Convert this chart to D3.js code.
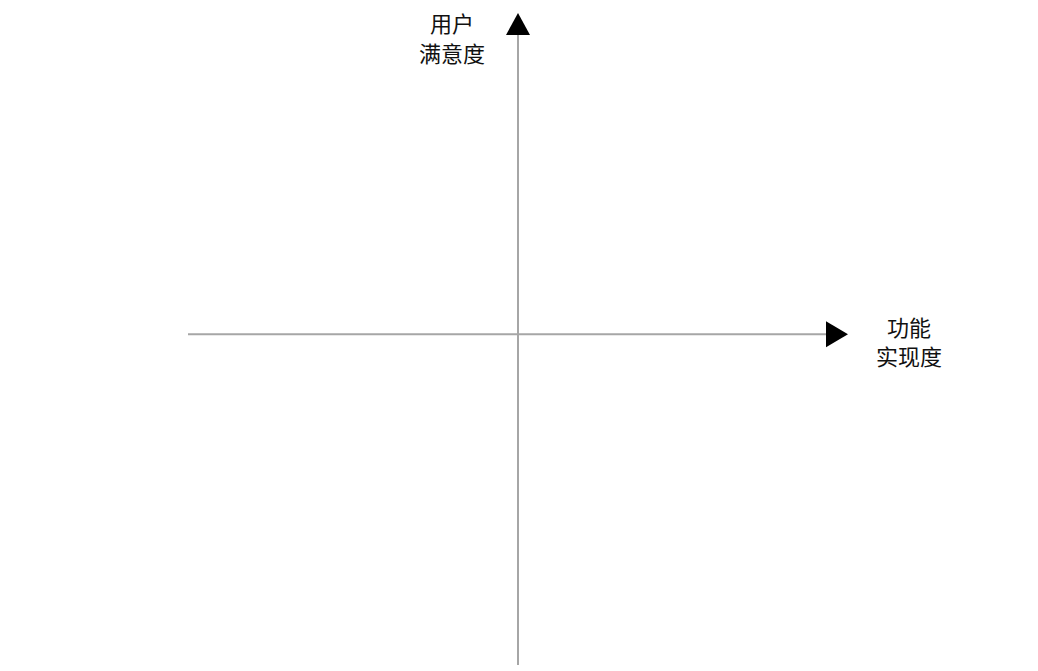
<!DOCTYPE html>
<html>
<head>
<meta charset="utf-8">
<script src="https://cdn.jsdelivr.net/npm/d3@7"></script>
<style>
  html, body { margin: 0; padding: 0; background: #fff; }
  svg { display: block; }
  text { font-family: "Noto Sans CJK SC", "Noto Sans", sans-serif; }
</style>
</head>
<body>
<script>
// Axis labels
const xLabelLines = ["功能", "实现度"];
const yLabelLines = ["用户", "满意度"];
// Axis domains (quadrant chart, no ticks)
const xDomain = [-1.0, 1.0];
const yDomain = [-1.03, 1.0];

const W = 1038, H = 671;
const svg = d3.select("body").append("svg").attr("width", W).attr("height", H);

const x = d3.scaleLinear().domain(xDomain).range([188, 848]);
const y = d3.scaleLinear().domain(yDomain).range([665, 13]);

const axisColor = "#a6a6a6";

// Horizontal axis
svg.append("line")
  .attr("x1", x(xDomain[0])).attr("x2", x(xDomain[1]) - 10)
  .attr("y1", y(0)).attr("y2", y(0))
  .attr("stroke", axisColor).attr("stroke-width", 2);

// Vertical axis
svg.append("line")
  .attr("x1", x(0)).attr("x2", x(0))
  .attr("y1", y(yDomain[0])).attr("y2", y(yDomain[1]) + 10)
  .attr("stroke", axisColor).attr("stroke-width", 2);

// Arrowheads
const xt = x(xDomain[1]), y0 = y(0);
svg.append("path")
  .attr("d", `M${xt},${y0} L${xt - 22},${y0 - 13} L${xt - 22},${y0 + 13} Z`)
  .attr("fill", "#000");
const yt = y(yDomain[1]), x0 = x(0);
svg.append("path")
  .attr("d", `M${x0},${yt} L${x0 - 12},${yt + 22} L${x0 + 12},${yt + 22} Z`)
  .attr("fill", "#000");

// Labels
svg.append("g").selectAll("text").data(yLabelLines).join("text")
  .attr("x", 452).attr("y", (d, i) => 32 + i * 30)
  .attr("text-anchor", "middle")
  .attr("font-size", 22).attr("fill", "#111")
  .text(d => d);

svg.append("g").selectAll("text").data(xLabelLines).join("text")
  .attr("x", 909).attr("y", (d, i) => 336 + i * 29)
  .attr("text-anchor", "middle")
  .attr("font-size", 22).attr("fill", "#111")
  .text(d => d);
</script>
</body>
</html>
